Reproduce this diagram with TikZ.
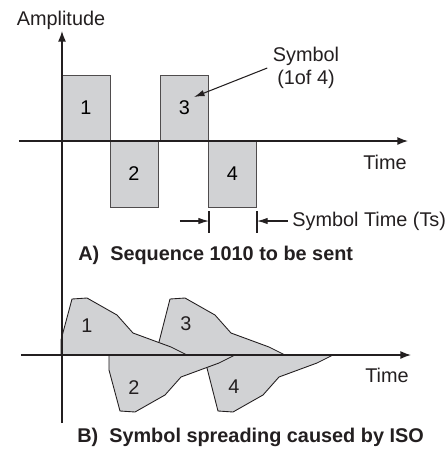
\documentclass[tikz,border=0pt]{standalone}
\usepackage{fontspec}
\setmainfont{Liberation Sans}
\usepackage{tikz}
\usetikzlibrary{arrows.meta, positioning}
\definecolor{pulsegray}{RGB}{209,210,212}
\definecolor{inkgray}{RGB}{35,31,32}
\tikzstyle{symbolbox} = [rectangle, minimum width=0.96cm, minimum height=1.32cm, inner sep=0pt, outer sep=0pt, text centered, draw=inkgray!80, fill=pulsegray, line width=0.5pt]
\tikzstyle{plaintext} = [text centered, inner sep=2pt, text=inkgray]
\tikzstyle{caption} = [anchor=west, inner sep=0pt, text=inkgray, font=\fontsize{11.3}{13}\selectfont\bfseries]
\tikzstyle{axis} = [draw=inkgray, line width=0.75pt, -{Latex[length=6pt, width=4.5pt]}]
\tikzstyle{pointer} = [draw=inkgray, line width=0.6pt, -{Latex[length=6pt, width=3.6pt]}]
\tikzstyle{pulsefill} = [fill=pulsegray]
\tikzstyle{pulseline} = [draw=inkgray, line width=0.5pt, line join=round]

\begin{document}
\begin{tikzpicture}[x=0.02cm, y=-0.02cm, font=\fontsize{11.3}{13}\selectfont]
\useasboundingbox (0,0) rectangle (448,458);
% A) square symbols
\coordinate (o1) at (62,141);
\node (b1) [symbolbox, above right=0cm and 0cm of o1] {1};
\node (b2) [symbolbox, below right=0cm and 0cm of b1] {2};
\node (b3) [symbolbox, above right=0cm and 0.05cm of b2] {3};
\node (b4) [symbolbox, below right=0cm and 0cm of b3] {4};
% B) spread symbols
\fill[pulsefill] (61,355) -- (61,340) -- (72,299) -- (87,298) -- (117,315) -- (133,333) -- (171,347) -- (187,355) -- cycle;
\fill[pulsefill] (109,355) -- (109,370) -- (120,411) -- (135,412) -- (165,395) -- (181,377) -- (219,363) -- (235,355) -- cycle;
\fill[pulsefill] (159,355) -- (159,342) -- (170,299) -- (185,298) -- (215,315) -- (231,333) -- (269,347) -- (285,355) -- cycle;
\fill[pulsefill] (207,355) -- (207,368) -- (218,411) -- (233,412) -- (263,395) -- (279,377) -- (317,363) -- (333,355) -- cycle;
\draw[pulseline] (61,355) -- (61,340) -- (72,299) -- (87,298) -- (117,315) -- (133,333) -- (171,347) -- (187,355);
\draw[pulseline] (109,355) -- (109,370) -- (120,411) -- (135,412) -- (165,395) -- (181,377) -- (219,363) -- (235,355);
\draw[pulseline] (159,342) -- (170,299) -- (185,298) -- (215,315) -- (231,333) -- (269,347) -- (285,355);
\draw[pulseline] (207,368) -- (218,411) -- (233,412) -- (263,395) -- (279,377) -- (317,363) -- (333,355);
\node (p1) [plaintext] at (87,326) {1};
\node (p2) [plaintext] at (134,388) {2};
\node (p3) [plaintext] at (186,324) {3};
\node (p4) [plaintext] at (234,387) {4};
% axes
\coordinate (ybot) at (62,423);
\coordinate (ytop) at (62,31);
\coordinate (xa0) at (19,141);
\coordinate (xa1) at (408,141);
\coordinate (xb0) at (21,355);
\coordinate (xb1) at (411,355);
\draw[axis] (ybot) -- (ytop);
\draw[axis] (xa0) -- (xa1);
\draw[axis] (xb0) -- (xb1);
\node (amp) [plaintext] at (61,20) {Amplitude};
\node (timea) [plaintext] at (385,162) {Time};
\node (timeb) [plaintext] at (387,375) {Time};
% symbol pointer
\node (sym) [plaintext, align=center, inner sep=3pt] at (306,68) {Symbol\\(1of 4)};
\coordinate (symtip) at (194,97);
\draw[pointer] (sym.west) -- (symtip);
% symbol time
\coordinate (tk1a) at (209,211);
\coordinate (tk1b) at (209,233);
\coordinate (tk1m) at (209,221);
\coordinate (tk2a) at (257,211);
\coordinate (tk2b) at (257,233);
\coordinate (tk2m) at (257,221);
\coordinate (ar1) at (180,221);
\draw[draw=inkgray, line width=0.6pt] (tk1a) -- (tk1b);
\draw[draw=inkgray, line width=0.6pt] (tk2a) -- (tk2b);
\node (ts) [plaintext, anchor=west, inner sep=0pt] at (292,221) {Symbol Time (Ts)};
\draw[pointer] (ar1) -- (tk1m);
\draw[pointer, shorten <=2.5pt] (ts.west) -- (tk2m);
% captions
\node (capa) [caption] at (78,255) {A)\ \ Sequence 1010 to be sent};
\node (capb) [caption] at (77,437) {B)\ \ Symbol spreading caused by ISO};
\end{tikzpicture}
\end{document}
